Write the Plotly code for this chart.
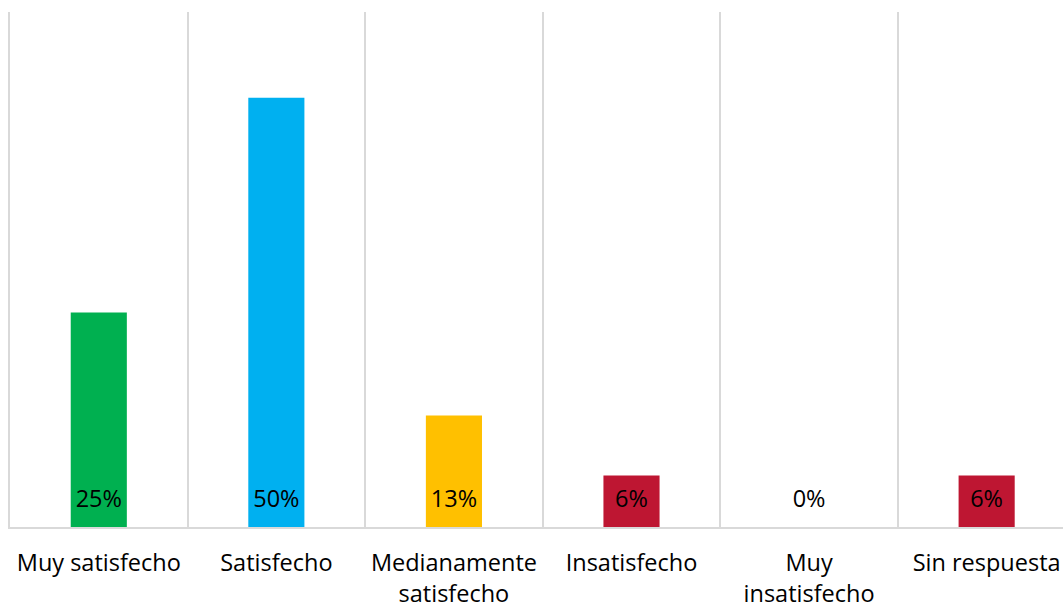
import plotly.graph_objects as go

categories = ["Muy satisfecho", "Satisfecho", "Medianamente<br>satisfecho",
              "Insatisfecho", "Muy<br>insatisfecho", "Sin respuesta"]
values = [25, 50, 13, 6, 0, 6]
labels = ["25%", "50%", "13%", "6%", "0%", "6%"]
colors = ["#00B050", "#00B0F0", "#FFC000", "#BE1632", "#BE1632", "#BE1632"]

FONT = "Open Sans"
GRID = "#D9D9D9"
FS = 23.5

fig = go.Figure()
fig.add_trace(go.Bar(
    x=categories, y=values, marker=dict(color=colors, line=dict(width=0)),
    width=0.316, hoverinfo="skip", showlegend=False,
))
fig.add_trace(go.Scatter(
    x=categories, y=[3.0] * len(categories), mode="text", text=labels,
    textposition="middle center",
    textfont=dict(family=FONT, size=FS, color="#000000"),
    hoverinfo="skip", showlegend=False,
))

fig.update_layout(
    width=1063, height=605,
    margin=dict(l=10, t=12, r=0, b=78, pad=0, autoexpand=False),
    paper_bgcolor="white", plot_bgcolor="white",
    font=dict(family=FONT, size=FS, color="#000000"),
    xaxis=dict(
        type="category", range=[-0.5, 5.43], tickson="boundaries",
        showgrid=True, gridcolor=GRID, gridwidth=2, automargin=False,
        showline=True, linecolor=GRID, linewidth=2,
        ticks="", tickfont=dict(family=FONT, size=FS, color="#000000"),
        ticklabelstandoff=14,
    ),
    yaxis=dict(
        range=[0, 60], showgrid=False, zeroline=False, showticklabels=False,
        showline=True, linecolor=GRID, linewidth=2, ticks="", automargin=False,
    ),
)

fig.write_html("out.html")
